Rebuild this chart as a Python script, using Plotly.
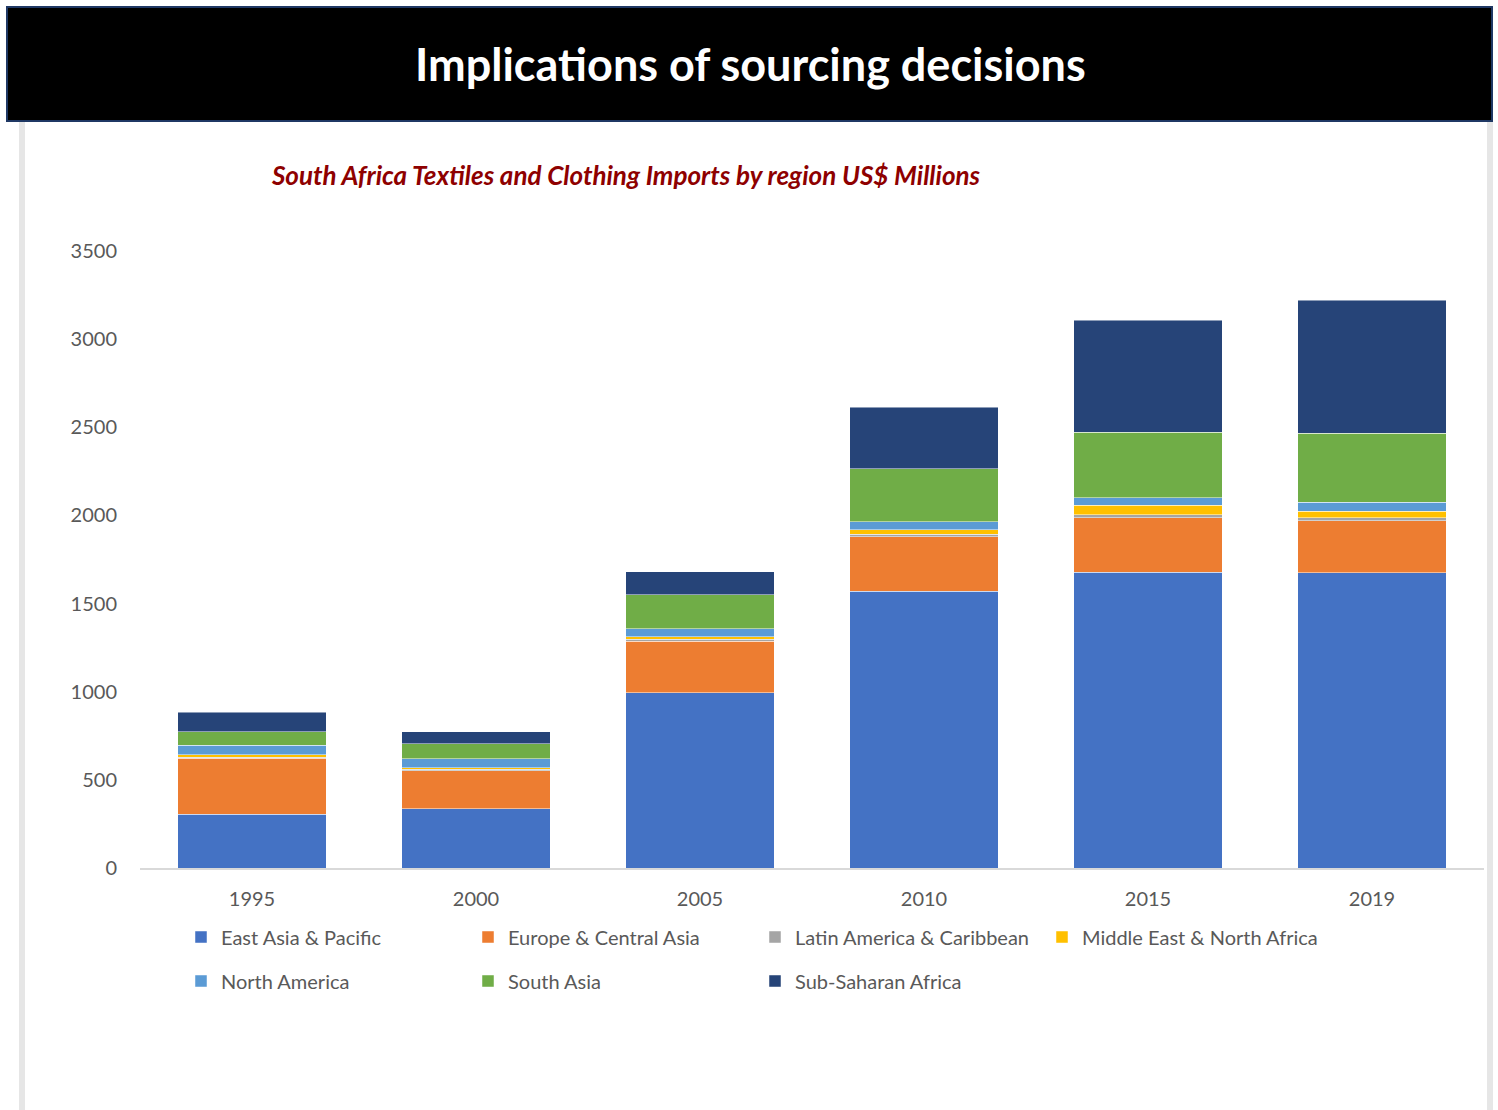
import plotly.graph_objects as go

years = ["1995", "2000", "2005", "2010", "2015", "2019"]
east_asia_pacific = [305, 335, 995, 1570, 1677, 1675]
europe_central_asia = [319, 217, 292, 308, 310, 295]
latin_america_caribbean = [5, 8, 11, 15, 17, 17]
middle_east_north_africa = [13, 8, 15, 25, 55, 38]
north_america = [55, 53, 45, 45, 41, 49]
south_asia = [75, 83, 193, 301, 373, 393]
sub_saharan_africa = [112, 70, 130, 350, 634, 753]

series = [
    ("East Asia & Pacific", east_asia_pacific, "#4472C4", "legend"),
    ("Europe & Central Asia", europe_central_asia, "#ED7D31", "legend"),
    ("Latin America & Caribbean", latin_america_caribbean, "#A5A5A5", "legend"),
    ("Middle East & North Africa", middle_east_north_africa, "#FFC000", "legend"),
    ("North America", north_america, "#5B9BD5", "legend2"),
    ("South Asia", south_asia, "#70AD47", "legend2"),
    ("Sub-Saharan Africa", sub_saharan_africa, "#264478", "legend2"),
]

W, H = 1498, 1110
L, R, T, B = 140, 1484, 251, 868


def px_x(p):
    return (p - L) / (R - L)


def px_y(p):
    return (B - p) / (B - T)


fig = go.Figure()
for name, vals, color, lg in series:
    fig.add_trace(go.Bar(
        x=years, y=vals, name=name, legend=lg,
        marker=dict(color=color, line=dict(color="rgba(255,255,255,0.6)", width=0.8)),
    ))

FONT = "Lato, 'Open Sans', sans-serif"
legend_common = dict(orientation="h", xanchor="left", yanchor="middle",
                     entrywidth=287 / (R - L), entrywidthmode="fraction",
                     font=dict(size=20, color="#595959"),
                     bgcolor="rgba(0,0,0,0)", traceorder="normal")
fig.update_layout(
    width=W, height=H,
    barmode="stack", bargap=0.335,
    margin=dict(l=L, r=W - R, t=T, b=H - B, pad=0, autoexpand=False),
    paper_bgcolor="white", plot_bgcolor="white",
    font=dict(family=FONT, size=20, color="#595959"),
    showlegend=True,
    legend=dict(x=px_x(181), y=px_y(937), **legend_common),
    legend2=dict(x=px_x(181), y=px_y(981), **legend_common),
    xaxis=dict(type="category", showline=True, linecolor="#D9D9D9", linewidth=1.5,
               showgrid=False, zeroline=False, ticks="", ticklabelstandoff=12,
               tickfont=dict(size=20, color="#595959")),
    yaxis=dict(range=[0, 3500], tickvals=[0, 500, 1000, 1500, 2000, 2500, 3000, 3500],
               showgrid=False, zeroline=False, showline=False, ticks="",
               ticklabelstandoff=22, tickfont=dict(size=20, color="#595959")),
)

shapes = [
    # side panel borders
    dict(type="rect", xref="paper", yref="paper", x0=px_x(19), x1=px_x(25), y0=px_y(H), y1=px_y(121),
         fillcolor="#E6E6E6", line=dict(width=0), layer="below"),
    dict(type="rect", xref="paper", yref="paper", x0=px_x(1487), x1=px_x(1493), y0=px_y(H), y1=px_y(121),
         fillcolor="#E6E6E6", line=dict(width=0), layer="below"),
    # header band
    dict(type="rect", xref="paper", yref="paper", x0=px_x(7), x1=px_x(1492), y0=px_y(121), y1=px_y(7),
         fillcolor="black", line=dict(color="#1F3864", width=2)),
]
fig.update_layout(shapes=shapes)

fig.add_annotation(text="<b>Implications of sourcing decisions</b>", xref="paper", yref="paper",
                   x=px_x(750), y=px_y(64), xanchor="center", yanchor="middle", showarrow=False,
                   font=dict(family=FONT, size=45, color="white"))
fig.add_annotation(text="<b><i>South Africa Textiles and Clothing Imports by region US$ Millions</i></b>",
                   xref="paper", yref="paper", x=px_x(626), y=px_y(175), xanchor="center",
                   yanchor="middle", showarrow=False,
                   font=dict(family=FONT, size=26, color="#8E0000"))

fig.write_html("out.html", config={"displayModeBar": False},
               post_script="document.body.style.margin='0px';")
